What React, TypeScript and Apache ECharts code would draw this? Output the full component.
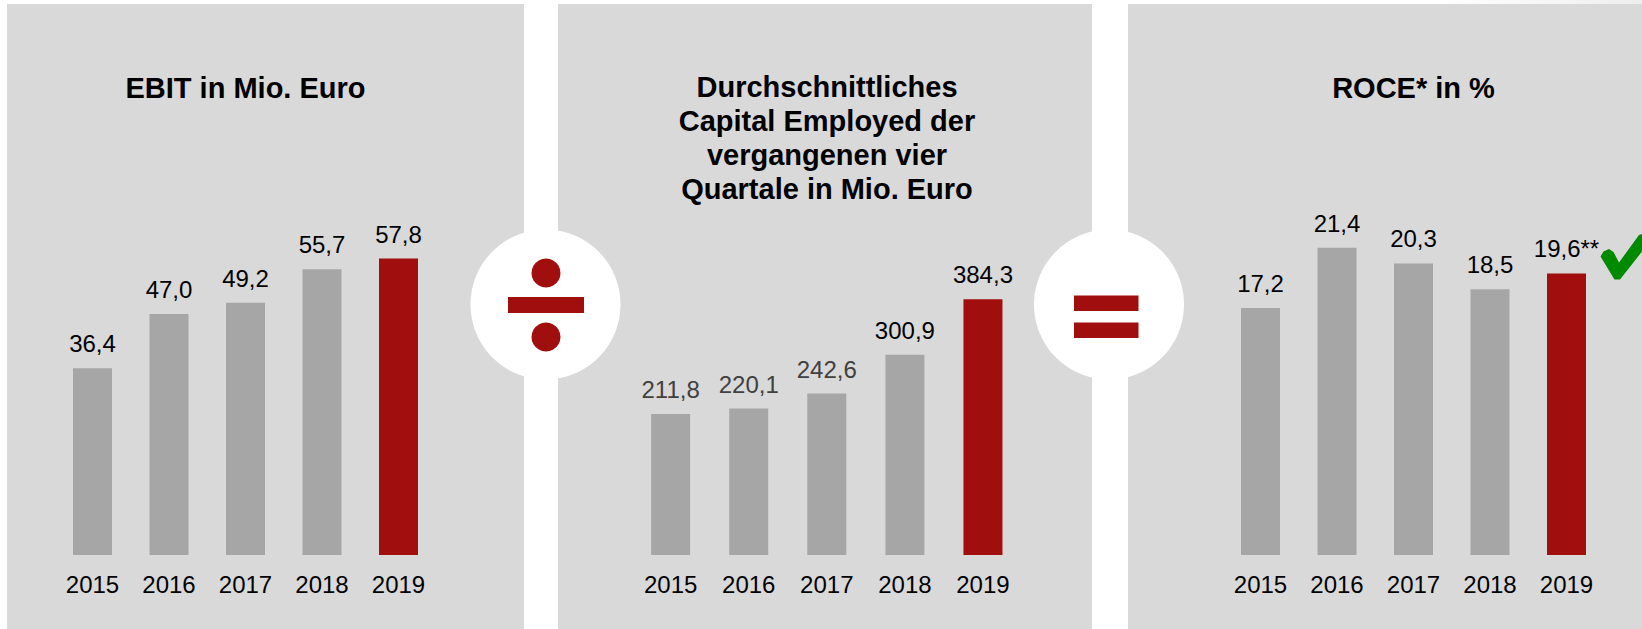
import React, { useEffect, useRef } from "react";
import * as echarts from "echarts";

const years = ["2015", "2016", "2017", "2018", "2019"];
const ebit = [36.4, 47.0, 49.2, 55.7, 57.8];
const capital = [211.8, 220.1, 242.6, 300.9, 384.3];
const roce = [17.2, 21.4, 20.3, 18.5, 19.6];
const roceLastSuffix = "**";

const titleEbit = "EBIT in Mio. Euro";
const titleCapital = "Durchschnittliches\nCapital Employed der\nvergangenen vier\nQuartale in Mio. Euro";
const titleRoce = "ROCE* in %";

const FONT = '"Liberation Sans", Arial, sans-serif';
const GRAY = "#a6a6a6";
const RED = "#a10e0e";
const PANEL = "#d9d9d9";

const fmt = (v: number) => v.toFixed(1).replace(".", ",");

export default function App() {
  const ref = useRef<HTMLDivElement>(null);
  useEffect(() => {
    document.body.style.margin = "0";
    const chart = echarts.init(ref.current!, null, { renderer: "svg" });

    const mkData = (vals: number[], grayLabelIdx: number[] = []) =>
      vals.map((v, i) => ({
        value: v,
        itemStyle: { color: i === vals.length - 1 ? RED : GRAY },
        label: { color: grayLabelIdx.includes(i) ? "#404040" : "#000000" },
      }));

    const grids = [
      { left: 54.25, width: 382.5, top: 155, height: 400 },
      { left: 631.6, width: 390.4, top: 155, height: 400 },
      { left: 1222.25, width: 382.5, top: 155, height: 400 },
    ];
    const maxes = [78.0, 601, 27.85];

    const xAxes = grids.map((_, i) => ({
      type: "category",
      gridIndex: i,
      data: years,
      axisLine: { show: false },
      axisTick: { show: false },
      axisLabel: { fontSize: 24, color: "#000", fontFamily: FONT, margin: 17 },
    }));
    const yAxes = grids.map((_, i) => ({
      type: "value",
      gridIndex: i,
      min: 0,
      max: maxes[i],
      show: false,
      splitLine: { show: false },
    }));

    const labelBase = {
      show: true,
      position: "top",
      distance: 12.5,
      fontSize: 24,
      fontFamily: FONT,
    };

    const series = [
      {
        type: "bar",
        xAxisIndex: 0,
        yAxisIndex: 0,
        barWidth: 39,
        data: mkData(ebit),
        label: { ...labelBase, formatter: (p: any) => fmt(p.value) },
      },
      {
        type: "bar",
        xAxisIndex: 1,
        yAxisIndex: 1,
        barWidth: 39,
        data: mkData(capital, [0, 1, 2]),
        label: { ...labelBase, formatter: (p: any) => fmt(p.value) },
      },
      {
        type: "bar",
        xAxisIndex: 2,
        yAxisIndex: 2,
        barWidth: 39,
        data: mkData(roce),
        label: {
          ...labelBase,
          formatter: (p: any) =>
            fmt(p.value) + (p.dataIndex === roce.length - 1 ? roceLastSuffix : ""),
        },
      },
    ];

    const titleStyle = (text: string, x: number, y: number) => ({
      type: "text",
      z: 5,
      style: {
        text,
        x,
        y,
        fill: "#000",
        fontSize: 29,
        fontWeight: "bold",
        fontFamily: FONT,
        align: "center",
        verticalAlign: "middle",
        lineHeight: 34,
      },
    });

    const graphic = [
      {
        type: "rect",
        z: 0,
        shape: { x: 1440, y: 0, width: 202, height: 4 },
        style: {
          fill: new echarts.graphic.LinearGradient(0, 0, 1, 0, [
            { offset: 0, color: "#ffffff" },
            { offset: 1, color: "#eeeeee" },
          ]),
        },
      },
      { type: "rect", z: 0, shape: { x: 7, y: 4, width: 517, height: 625 }, style: { fill: PANEL } },
      { type: "rect", z: 0, shape: { x: 558, y: 4, width: 534, height: 625 }, style: { fill: PANEL } },
      { type: "rect", z: 0, shape: { x: 1128, y: 4, width: 514, height: 625 }, style: { fill: PANEL } },
      { type: "circle", z: 1, shape: { cx: 545.5, cy: 304.5, r: 75 }, style: { fill: "#ffffff" } },
      { type: "circle", z: 1, shape: { cx: 1109, cy: 304.5, r: 75 }, style: { fill: "#ffffff" } },
      // divide symbol
      { type: "circle", z: 2, shape: { cx: 546, cy: 273, r: 14.5 }, style: { fill: RED } },
      { type: "rect", z: 2, shape: { x: 508, y: 297, width: 76, height: 16 }, style: { fill: RED } },
      { type: "circle", z: 2, shape: { cx: 546, cy: 337, r: 14.5 }, style: { fill: RED } },
      // equals symbol
      { type: "rect", z: 2, shape: { x: 1074, y: 295.5, width: 64.5, height: 15.5 }, style: { fill: RED } },
      { type: "rect", z: 2, shape: { x: 1074, y: 322.5, width: 64.5, height: 15.5 }, style: { fill: RED } },
      // check mark
      {
        type: "polygon",
        z: 3,
        shape: {
          points: [
            [1600.5, 256.5],
            [1603.5, 251.5],
            [1609, 249],
            [1613.5, 252],
            [1619, 262.5],
            [1639, 235],
            [1646, 232.5],
            [1646, 246.5],
            [1620, 279.5],
            [1614.5, 279.5],
          ],
        },
        style: { fill: "#008a00" },
      },
      titleStyle(titleEbit, 245.5, 88),
      titleStyle(titleCapital, 827, 137.5),
      titleStyle(titleRoce, 1413.5, 88),
    ];

    chart.setOption({
      animation: false,
      backgroundColor: "#ffffff",
      grid: grids,
      xAxis: xAxes,
      yAxis: yAxes,
      series,
      graphic,
    });
    return () => chart.dispose();
  }, []);
  return <div ref={ref} style={{ width: 1642, height: 629 }} />;
}
